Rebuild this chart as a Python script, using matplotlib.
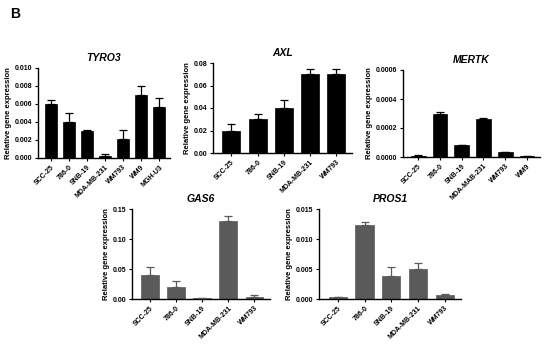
import matplotlib
matplotlib.use("Agg")
import matplotlib.pyplot as plt
import numpy as np

plt.rcParams['font.family'] = ['Liberation Sans', 'DejaVu Sans']

tyro3_cells = ["SCC-25", "786-0", "SNB-19", "MDA-MB-231", "WM793", "WM9", "MGH-U3"]
tyro3_vals = [0.0060, 0.0040, 0.0030, 0.0002, 0.0021, 0.0070, 0.0057]
tyro3_err = [0.0004, 0.0010, 0.0001, 0.0002, 0.0010, 0.0010, 0.0010]
tyro3_ticks = [0.000, 0.002, 0.004, 0.006, 0.008, 0.010]
tyro3_fmt = "{:.3f}"

axl_cells = ["SCC-25", "786-0", "SNB-19", "MDA-MB-231", "WM793"]
axl_vals = [0.020, 0.030, 0.040, 0.070, 0.070]
axl_err = [0.0055, 0.0045, 0.0075, 0.0045, 0.0045]
axl_ticks = [0.00, 0.02, 0.04, 0.06, 0.08]
axl_fmt = "{:.2f}"

mertk_cells = ["SCC-25", "786-0", "SNB-19", "MDA-MAB-231", "WM793", "WM9"]
mertk_vals = [0.000008, 0.000300, 0.000080, 0.000260, 0.000033, 0.000007]
mertk_err = [0.000003, 0.000010, 0.000003, 0.000010, 0.000004, 0.000002]
mertk_ticks = [0.0000, 0.0002, 0.0004, 0.0006]
mertk_fmt = "{:.4f}"

gas6_cells = ["SCC-25", "786-0", "SNB-19", "MDA-MB-231", "WM793"]
gas6_vals = [0.040, 0.020, 0.001, 0.130, 0.004]
gas6_err = [0.013, 0.010, 0.0003, 0.008, 0.002]
gas6_ticks = [0.00, 0.05, 0.10, 0.15]
gas6_fmt = "{:.2f}"

pros1_cells = ["SCC-25", "786-0", "SNB-19", "MDA-MB-231", "WM793"]
pros1_vals = [0.0003, 0.0123, 0.0038, 0.0050, 0.0007]
pros1_err = [0.0001, 0.0006, 0.0015, 0.0010, 0.0002]
pros1_ticks = [0.000, 0.005, 0.010, 0.015]
pros1_fmt = "{:.3f}"

W, H = 550, 345
fig = plt.figure(figsize=(W / 100, H / 100), dpi=100)


def px_axes(x0, y0, x1, y1):
    return fig.add_axes([x0 / W, 1 - y1 / H, (x1 - x0) / W, (y1 - y0) / H])


def panel(rect, title, cells, vals, err, ticks, fmt, color):
    ax = px_axes(*rect)
    x = np.arange(len(cells))
    ax.bar(x, vals, width=0.68, color=color, edgecolor=color, linewidth=0.5, zorder=2)
    ax.errorbar(x, vals, yerr=[np.zeros(len(err)), err], fmt='none', ecolor=color,
                elinewidth=0.9, capsize=3, capthick=0.9, zorder=3)
    ax.set_xlim(-0.7, len(cells) - 0.4)
    ax.set_ylim(ticks[0], ticks[-1])
    ax.set_yticks(ticks)
    ax.set_yticklabels([fmt.format(t) for t in ticks], fontsize=5, fontweight='bold')
    ax.set_xticks(x)
    ax.set_xticklabels(cells, rotation=45, ha='right', rotation_mode='anchor',
                       fontsize=5, fontweight='bold')
    ax.spines['top'].set_visible(False)
    ax.spines['right'].set_visible(False)
    for s in ['left', 'bottom']:
        ax.spines[s].set_linewidth(1.0)
    ax.tick_params(axis='both', length=2.5, width=0.8, pad=1.5)
    ax.set_ylabel("Relative gene expression", fontsize=5.5, fontweight='bold', labelpad=2)
    ax.set_title(title, fontsize=7.5, fontweight='bold', style='italic', pad=5)
    return ax


panel((38, 68, 170, 158), "TYRO3", tyro3_cells, tyro3_vals, tyro3_err, tyro3_ticks, tyro3_fmt, 'black')
panel((213, 63, 352, 153), "AXL", axl_cells, axl_vals, axl_err, axl_ticks, axl_fmt, 'black')
panel((403, 70, 540, 157), "MERTK", mertk_cells, mertk_vals, mertk_err, mertk_ticks, mertk_fmt, 'black')
panel((132, 209, 270, 299), "GAS6", gas6_cells, gas6_vals, gas6_err, gas6_ticks, gas6_fmt, '#5a5a5a')
panel((319, 209, 461, 299), "PROS1", pros1_cells, pros1_vals, pros1_err, pros1_ticks, pros1_fmt, '#5a5a5a')

fig.text(10 / W, 1 - 14 / H, "B", fontsize=10, fontweight='bold', ha='left', va='center')

fig.savefig("out.png", dpi=100)
